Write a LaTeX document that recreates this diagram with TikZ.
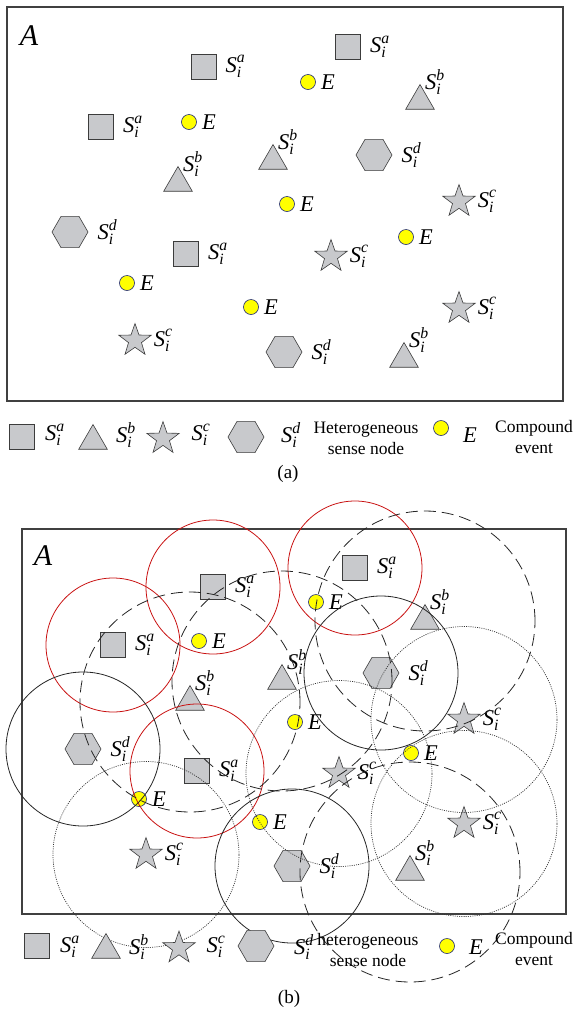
\documentclass[tikz,border=0pt]{standalone}
\usepackage{amsmath}
\usepackage{fontspec}
\setmainfont{Liberation Serif}
\usetikzlibrary{shapes.geometric,positioning}

\definecolor{grigio}{RGB}{200,201,204}
\definecolor{bordo}{RGB}{60,60,60}
\definecolor{rosso}{RGB}{200,16,16}
\definecolor{giallo}{RGB}{255,255,0}
\definecolor{blu}{RGB}{30,40,120}

\newcommand{\Snodo}[1]{$\textit{S}_{\textit{i}}^{\textit{#1}}$}

\tikzset{
  nodo/.style={draw=bordo, fill=grigio, line width=0.6pt, inner sep=0pt},
  quadrato/.style={nodo, rectangle, minimum size=25pt},
  triangolo/.style={nodo, regular polygon, regular polygon sides=3, minimum size=33pt},
  stella/.style={nodo, star, star points=5, star point ratio=2.5, minimum size=34pt},
  esagono/.style={nodo, regular polygon, regular polygon sides=6, minimum size=36pt},
  evento/.style={draw=blu, fill=giallo, line width=0.6pt, circle, inner sep=0pt, minimum size=15pt},
  etich/.style={inner sep=0pt, font=\fontsize{22.5}{25}\selectfont},
  testo/.style={inner sep=0pt, align=center, font=\fontsize{17.5}{21}\selectfont},
  cornice/.style={draw=black!75, line width=1.1pt},
  rosso r/.style={draw=rosso, line width=0.8pt},
  nero r/.style={draw=black!85, line width=0.8pt},
  punti r/.style={draw=black!80, line width=0.7pt, dash pattern=on 1pt off 1.2pt},
  tratti r/.style={draw=black!85, line width=0.8pt, dash pattern=on 12pt off 6pt}
}

\begin{document}
\begin{tikzpicture}[x=1pt, y=-1pt]
  \useasboundingbox (0,0) rectangle (574,1010);

  % Riquadro (a): nodi ed eventi
  \draw[cornice] (7,7) rectangle (563,401);
  \node[etich, font=\fontsize{30}{32}\selectfont] (areaA) at (29,36) {\textit{A}};

  \node[quadrato] (sa1) at (203.5,66.5) {};
  \node[quadrato] (sa2) at (348,47) {};
  \node[quadrato] (sa3) at (101,127) {};
  \node[quadrato] (sa4) at (186,254) {};
  \node[triangolo] (sb1) at (420,101) {};
  \node[triangolo] (sb2) at (273,161) {};
  \node[triangolo] (sb3) at (178,183) {};
  \node[triangolo] (sb4) at (404,359) {};
  \node[stella] (sc1) at (459,201.5) {};
  \node[stella] (sc2) at (331,256.5) {};
  \node[stella] (sc3) at (459,308.5) {};
  \node[stella] (sc4) at (135,340.5) {};
  \node[esagono] (sd1) at (374,155) {};
  \node[esagono] (sd2) at (70,232) {};
  \node[esagono] (sd3) at (284,352) {};
  \node[evento] (e1) at (308,82) {};
  \node[evento] (e2) at (189,122) {};
  \node[evento] (e3) at (287,204) {};
  \node[evento] (e4) at (406,237) {};
  \node[evento] (e5) at (127,283) {};
  \node[evento] (e6) at (251,307) {};

  \node[etich, right=9pt of sa1] (lsa1) {\Snodo{a}};
  \node[etich, right=9pt of sa2] (lsa2) {\Snodo{a}};
  \node[etich, right=9pt of sa3] (lsa3) {\Snodo{a}};
  \node[etich, right=9pt of sa4] (lsa4) {\Snodo{a}};
  \node[etich, right=5pt of sb1.north, yshift=2pt] (lsb1) {\Snodo{b}};
  \node[etich, right=5pt of sb2.north, yshift=2pt] (lsb2) {\Snodo{b}};
  \node[etich, right=5pt of sb3.north, yshift=2pt] (lsb3) {\Snodo{b}};
  \node[etich, right=5pt of sb4.north, yshift=2pt] (lsb4) {\Snodo{b}};
  \node[etich, right=9pt of sc1] (lsc1) {\Snodo{c}};
  \node[etich, right=9pt of sc2] (lsc2) {\Snodo{c}};
  \node[etich, right=9pt of sc3] (lsc3) {\Snodo{c}};
  \node[etich, right=9pt of sc4] (lsc4) {\Snodo{c}};
  \node[etich, right=9pt of sd1] (lsd1) {\Snodo{d}};
  \node[etich, right=9pt of sd2] (lsd2) {\Snodo{d}};
  \node[etich, right=9pt of sd3] (lsd3) {\Snodo{d}};
  \node[etich, right=5pt of e1] (le1) {\textit{E}};
  \node[etich, right=5pt of e2] (le2) {\textit{E}};
  \node[etich, right=5pt of e3] (le3) {\textit{E}};
  \node[etich, right=5pt of e4] (le4) {\textit{E}};
  \node[etich, right=5pt of e5] (le5) {\textit{E}};
  \node[etich, right=5pt of e6] (le6) {\textit{E}};

  % Legenda (a)
  \node[quadrato] (qla) at (22,437) {};
  \node[etich] (lqla) at (55,435) {\Snodo{a}};
  \node[triangolo] (tla) at (93,441) {};
  \node[etich] (ltla) at (126,435) {\Snodo{b}};
  \node[stella] (sla) at (163,438.6) {};
  \node[etich] (lsla) at (201,435) {\Snodo{c}};
  \node[esagono] (hla) at (246,437) {};
  \node[etich] (lhla) at (291,435) {\Snodo{d}};
  \node[testo] (het a) at (366,438) {Heterogeneous\\sense node};
  \node[evento] (ela) at (441,428) {};
  \node[etich] (lela) at (470,435) {\textit{E}};
  \node[testo] (comp a) at (534,437) {Compound\\event};
  \node[testo, font=\fontsize{19}{21}\selectfont] (cap a) at (288,474) {(a)};

  % Riquadro (b): stessi nodi con i raggi di copertura
  \draw[cornice] (22,529) rectangle (566,914);
  \node[etich, font=\fontsize{30}{32}\selectfont] (areaB) at (43,556) {\textit{A}};

  \node[quadrato] (sa1b) at (213,587) {};
  \node[quadrato] (sa2b) at (355,568) {};
  \node[quadrato] (sa3b) at (113,645) {};
  \node[quadrato] (sa4b) at (197,771) {};
  \node[triangolo] (sb1b) at (425,621) {};
  \node[triangolo] (sb2b) at (282,681) {};
  \node[triangolo] (sb3b) at (190,702) {};
  \node[triangolo] (sb4b) at (410,872) {};
  \node[stella] (sc1b) at (464,719.5) {};
  \node[stella] (sc2b) at (339,773.5) {};
  \node[stella] (sc3b) at (464,823.5) {};
  \node[stella] (sc4b) at (146,854.5) {};
  \node[esagono] (sd1b) at (381,673) {};
  \node[esagono] (sd2b) at (83,749) {};
  \node[esagono] (sd3b) at (292,866) {};
  \node[evento] (e1b) at (316,602) {};
  \node[evento] (e2b) at (199,641) {};
  \node[evento] (e3b) at (295,722) {};
  \node[evento] (e4b) at (411,753) {};
  \node[evento] (e5b) at (139,799) {};
  \node[evento] (e6b) at (260,822) {};

  \node[etich, right=9pt of sa1b] (lsa1b) {\Snodo{a}};
  \node[etich, right=9pt of sa2b] (lsa2b) {\Snodo{a}};
  \node[etich, right=9pt of sa3b] (lsa3b) {\Snodo{a}};
  \node[etich, right=9pt of sa4b] (lsa4b) {\Snodo{a}};
  \node[etich, right=5pt of sb1b.north, yshift=2pt] (lsb1b) {\Snodo{b}};
  \node[etich, right=5pt of sb2b.north, yshift=2pt] (lsb2b) {\Snodo{b}};
  \node[etich, right=5pt of sb3b.north, yshift=2pt] (lsb3b) {\Snodo{b}};
  \node[etich, right=5pt of sb4b.north, yshift=2pt] (lsb4b) {\Snodo{b}};
  \node[etich, right=9pt of sc1b] (lsc1b) {\Snodo{c}};
  \node[etich, right=9pt of sc2b] (lsc2b) {\Snodo{c}};
  \node[etich, right=9pt of sc3b] (lsc3b) {\Snodo{c}};
  \node[etich, right=9pt of sc4b] (lsc4b) {\Snodo{c}};
  \node[etich, right=9pt of sd1b] (lsd1b) {\Snodo{d}};
  \node[etich, right=9pt of sd2b] (lsd2b) {\Snodo{d}};
  \node[etich, right=9pt of sd3b] (lsd3b) {\Snodo{d}};
  \node[etich, right=5pt of e1b] (le1b) {\textit{E}};
  \node[etich, right=5pt of e2b] (le2b) {\textit{E}};
  \node[etich, right=5pt of e3b] (le3b) {\textit{E}};
  \node[etich, right=5pt of e4b] (le4b) {\textit{E}};
  \node[etich, right=5pt of e5b] (le5b) {\textit{E}};
  \node[etich, right=5pt of e6b] (le6b) {\textit{E}};

  % raggi di copertura
  \draw[rosso r] (sa1b.center) circle[radius=67pt];
  \draw[rosso r] (sa2b.center) circle[radius=67pt];
  \draw[rosso r] (sa3b.center) circle[radius=67pt];
  \draw[rosso r] (sa4b.center) circle[radius=67pt];
  \draw[tratti r] (sb1b.center) circle[radius=110pt];
  \draw[tratti r] (sb2b.center) circle[radius=110pt];
  \draw[tratti r] (sb3b.center) circle[radius=110pt];
  \draw[tratti r] (sb4b.center) circle[radius=110pt];
  \draw[punti r] (sc1b.center) circle[radius=93pt];
  \draw[punti r] (sc2b.center) circle[radius=93pt];
  \draw[punti r] (sc3b.center) circle[radius=93pt];
  \draw[punti r] (sc4b.center) circle[radius=93pt];
  \draw[nero r] (sd1b.center) circle[radius=77pt];
  \draw[nero r] (sd2b.center) circle[radius=77pt];
  \draw[nero r] (sd3b.center) circle[radius=77pt];

  % Legenda (b)
  \node[quadrato] (qlb) at (37,946) {};
  \node[etich] (lqlb) at (70,947) {\Snodo{a}};
  \node[triangolo] (tlb) at (106,950) {};
  \node[etich] (ltlb) at (139,947) {\Snodo{b}};
  \node[stella] (slb) at (179,948) {};
  \node[etich] (lslb) at (216,947) {\Snodo{c}};
  \node[esagono] (hlb) at (256,946) {};
  \node[etich] (lhlb) at (304,947) {\Snodo{d}};
  \node[testo] (het b) at (368,950) {heterogeneous\\sense node};
  \node[evento] (elb) at (447,946) {};
  \node[etich] (lelb) at (476,947) {\textit{E}};
  \node[testo] (comp b) at (534,949) {Compound\\event};
  \node[testo, font=\fontsize{19}{21}\selectfont] (cap b) at (289,999) {(b)};
\end{tikzpicture}
\end{document}
